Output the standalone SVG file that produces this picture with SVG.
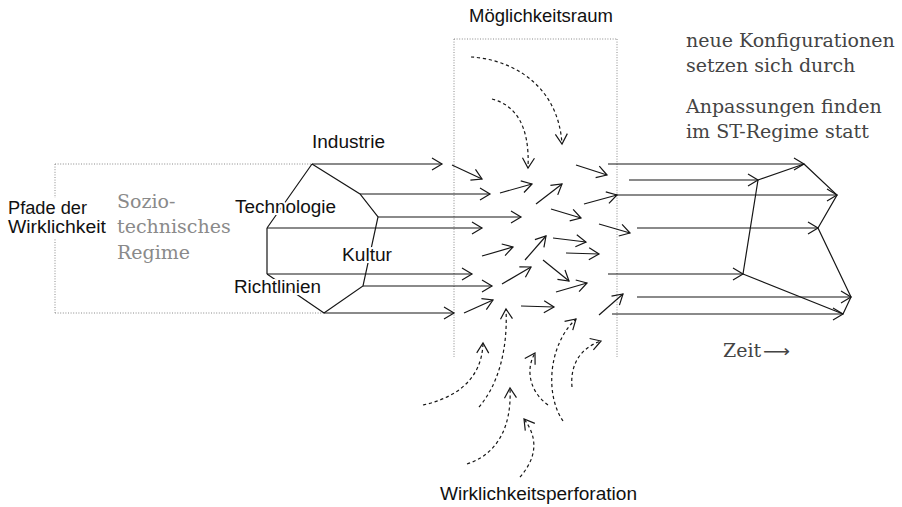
<svg xmlns="http://www.w3.org/2000/svg" width="902" height="507" viewBox="0 0 902 507">
<style>
.sans{font-family:"Liberation Sans",Arial,sans-serif;font-size:18.7px;fill:#111}
.halo{paint-order:stroke;stroke:#fff;stroke-width:4px;stroke-linejoin:round}
.serif{font-family:"DejaVu Serif","Liberation Serif",serif;font-size:19px;fill:#444}
.grey{fill:#8a8a8a}
.dot{fill:none;stroke:#8a8a8a;stroke-width:1;stroke-dasharray:1 1.6}
.ln{fill:none;stroke:#161616;stroke-width:1.2}
.ar{fill:none;stroke:#161616;stroke-width:1.2;marker-end:url(#ah)}
.da{fill:none;stroke:#161616;stroke-width:1.2;stroke-dasharray:3.2 2.8;marker-end:url(#ah)}
</style>
<defs>
<marker id="ah" viewBox="-12 -8 14 16" refX="0" refY="0" markerWidth="14" markerHeight="16" orient="auto" markerUnits="userSpaceOnUse">
<path d="M-10,-6 L0,0 L-10,6" fill="none" stroke="#161616" stroke-width="1.2"/>
</marker>
</defs>
<rect width="902" height="507" fill="#fff"/>
<g id="frames">
<path class="dot" d="M55,164 H312 M55,313 H324 M55,164 V313"/>
<path class="dot" d="M454,39 H617 M454,39 V357 M617,39 V357"/>
</g>
<g id="connectors">
<g id="regime-left">
<path class="ln" d="M312,164 L360,194 L378,217 L363,286 L324,313 M267,228 L312,164 M267,228 L267,274 M267,274 L324,313"/>
<path class="ar" d="M312,164 H442"/>
<path class="ar" d="M360,194 H490"/>
<path class="ar" d="M378,217 H521"/>
<path class="ar" d="M267,228 H482"/>
<path class="ar" d="M267,274 H472"/>
<path class="ar" d="M363,286 H492"/>
<path class="ar" d="M324,313 H454"/>
</g>
<g id="regime-right">
<path class="ln" d="M804,164 L837,195 L818,228 L851,297 L843,314 M758,180 L804,164 M758,180 L743,274 M743,274 L843,314"/>
<path class="ar" d="M608,164 H804"/>
<path class="ar" d="M629,180 H758"/>
<path class="ar" d="M615,195 H837"/>
<path class="ar" d="M637,228 H818"/>
<path class="ar" d="M608,274 H743"/>
<path class="ar" d="M637,297 H851"/>
<path class="ar" d="M612,314 H843"/>
</g>
<g id="chaos">
<path class="ar" d="M452,165 L482,179"/>
<path class="ar" d="M500,193 L532,184"/>
<path class="ar" d="M536,204 L562,184"/>
<path class="ar" d="M576,165 L607,175"/>
<path class="ar" d="M551,209 L581,218"/>
<path class="ar" d="M584,204 L617,195"/>
<path class="ar" d="M599,224 L630,233"/>
<path class="ar" d="M482,256 L513,247"/>
<path class="ar" d="M525,260 L546,236"/>
<path class="ar" d="M553,238 L586,242"/>
<path class="ar" d="M566,253 L599,254"/>
<path class="ar" d="M543,260 L569,281"/>
<path class="ar" d="M502,284 L531,267"/>
<path class="ar" d="M556,292 L587,283"/>
<path class="ar" d="M464,313 L493,300"/>
<path class="ar" d="M521,306 L554,307"/>
<path class="ar" d="M599,315 L623,294"/>
</g>
<g id="dashed">
<path class="da" d="M471,57 C508,59 558,82 562,144"/>
<path class="da" d="M492,99 C515,105 530,125 528,168"/>
<path class="da" d="M423,405 C455,398 482,380 483,343"/>
<path class="da" d="M479,407 C498,385 508,350 506,309"/>
<path class="da" d="M467,464 C495,455 512,430 510,388"/>
<path class="da" d="M520,477 C535,460 540,440 524,419"/>
<path class="da" d="M548,405 C530,392 525,370 535,353"/>
<path class="da" d="M563,421 C545,395 548,345 576,319"/>
<path class="da" d="M572,387 C570,365 580,348 601,341"/>
</g>
</g>
<g id="label-moeglichkeitsraum"><text class="sans" x="469" y="22" textLength="144" lengthAdjust="spacingAndGlyphs">Möglichkeitsraum</text></g>
<g id="label-industrie"><text class="sans halo" x="312" y="148" textLength="73" lengthAdjust="spacingAndGlyphs">Industrie</text></g>
<g id="label-technologie"><text class="sans halo" x="235" y="213" textLength="101" lengthAdjust="spacingAndGlyphs">Technologie</text></g>
<g id="label-kultur"><text class="sans halo" x="342" y="261" textLength="50" lengthAdjust="spacingAndGlyphs">Kultur</text></g>
<g id="label-richtlinien"><text class="sans halo" x="234" y="293" textLength="87" lengthAdjust="spacingAndGlyphs">Richtlinien</text></g>
<g id="label-pfade">
<rect x="6" y="198" width="104" height="40" fill="#fff"/>
<text class="sans" x="8" y="214" textLength="79" lengthAdjust="spacingAndGlyphs">Pfade der</text>
<text class="sans" x="8" y="233" textLength="98" lengthAdjust="spacingAndGlyphs">Wirklichkeit</text>
</g>
<g id="label-perforation"><text class="sans" x="440" y="500" textLength="197" lengthAdjust="spacingAndGlyphs">Wirklichkeitsperforation</text></g>
<g id="label-regime">
<text class="serif grey" x="117" y="208">Sozio-</text>
<text class="serif grey" x="117" y="233">technisches</text>
<text class="serif grey" x="117" y="259">Regime</text>
</g>
<g id="label-konfigurationen">
<text class="serif" x="686" y="47">neue Konfigurationen</text>
<text class="serif" x="686" y="72">setzen sich durch</text>
</g>
<g id="label-anpassungen">
<text class="serif" x="686" y="113">Anpassungen finden</text>
<text class="serif" x="686" y="138">im ST-Regime statt</text>
</g>
<g id="label-zeit"><text class="serif" x="723" y="357">Zeit<tspan x="763" font-family="DejaVu Sans, sans-serif" font-size="17" textLength="27" lengthAdjust="spacingAndGlyphs">⟶</tspan></text></g>
</svg>
